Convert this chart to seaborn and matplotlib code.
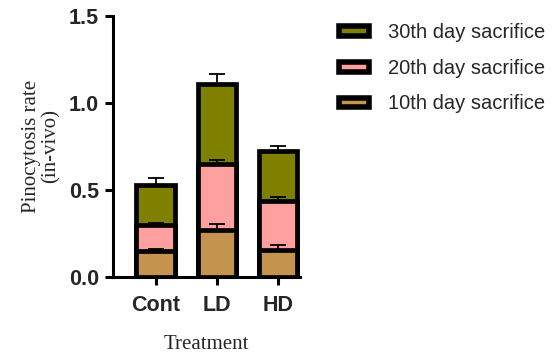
import numpy as np
import pandas as pd
import matplotlib
matplotlib.use("Agg")
import matplotlib.pyplot as plt
import seaborn as sns
from matplotlib.patches import Patch

# ---- data ----
groups = ["Cont", "LD", "HD"]
series = ["10th day sacrifice", "20th day sacrifice", "30th day sacrifice"]
day10 = [0.15, 0.27, 0.155]
day20 = [0.15, 0.38, 0.28]
day30 = [0.23, 0.46, 0.29]
err10 = [0.01, 0.035, 0.03]
err20 = [0.01, 0.025, 0.025]
err30 = [0.04, 0.055, 0.03]
colors = ["#C4944F", "#FFA0A0", "#808000"]
yticks = [0.0, 0.5, 1.0, 1.5]

sns.set_theme(style="ticks")
plt.rcParams["font.family"] = ["Liberation Sans", "DejaVu Sans"]

fig = plt.figure(figsize=(5.56, 3.56), dpi=100)
ax = fig.add_axes([0.203, 0.222, 0.337, 0.733])

vals = [day10, day20, day30]
errs = [err10, err20, err30]
cum = np.cumsum(np.array(vals), axis=0)

# draw from the top (total) down so lower layers overlay
for i in [2, 1, 0]:
    df = pd.DataFrame({"group": groups, "value": cum[i]})
    sns.barplot(data=df, x="group", y="value", color=colors[i], ax=ax,
                width=0.63, edgecolor="black", linewidth=3.4, saturation=1,
                errorbar=None, zorder=2 + (2 - i))

for i in range(3):
    yerr = np.vstack([np.zeros(3), np.array(errs[i])])
    ax.errorbar(np.arange(3), cum[i], yerr=yerr, fmt="none", ecolor="black",
                elinewidth=1.3, capsize=6, capthick=1.3, zorder=10)

ax.set_ylim(0, 1.5)
ax.set_xlim(-0.7, 2.36)
ax.set_yticks(yticks)
ax.set_yticklabels([f"{t:.1f}" for t in yticks])
for lab in ax.get_xticklabels() + ax.get_yticklabels():
    lab.set_fontweight("bold")
    lab.set_fontsize(15.5)
ax.tick_params(axis="both", direction="out", length=6, width=2.2, color="black")
ax.tick_params(axis="x", pad=7)
ax.tick_params(axis="y", pad=4)
for s in ["left", "bottom"]:
    ax.spines[s].set_linewidth(2.2)
    ax.spines[s].set_color("black")
for s in ["top", "right"]:
    ax.spines[s].set_visible(False)

ax.set_xlabel("Treatment", fontfamily=["Liberation Serif"], fontsize=15, labelpad=14)
ax.set_ylabel("Pinocytosis rate\n(in-vivo)", fontfamily=["Liberation Serif"],
              fontsize=15, labelpad=6, linespacing=1.0)

handles = [Patch(facecolor=colors[i], edgecolor="black", linewidth=4.0, label=series[i])
           for i in [2, 1, 0]]
fig.legend(handles=handles, loc="upper left", bbox_to_anchor=(0.578, 0.985),
           frameon=False, fontsize=14.5, handlelength=1.45, handleheight=0.35,
           labelspacing=0.82, handletextpad=0.95)

fig.savefig("out.png", dpi=100)
